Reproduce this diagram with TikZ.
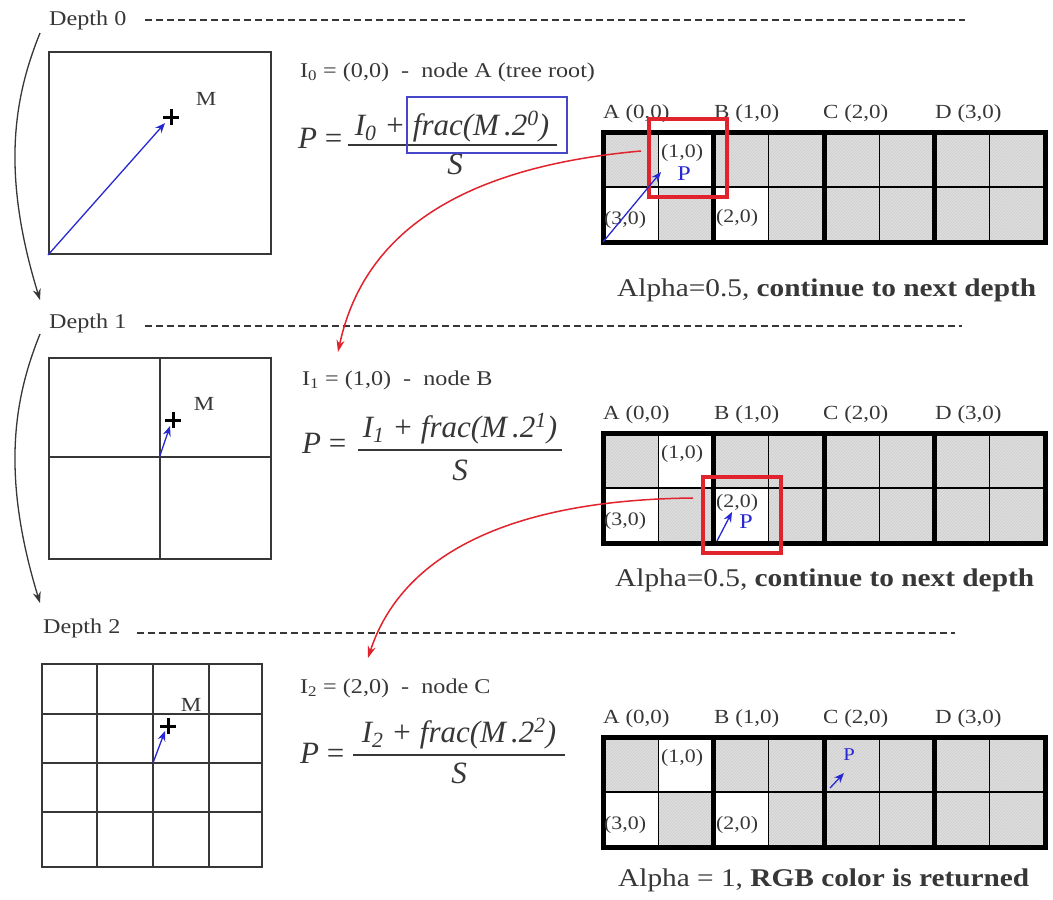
\documentclass[tikz,border=0pt]{standalone}
\usepackage{fontspec}
\setmainfont{Liberation Serif}
\newfontfamily\gara[FakeStretch=1.15]{Liberation Serif}
\usetikzlibrary{arrows.meta,patterns}
\definecolor{txt}{RGB}{55,55,55}
\definecolor{bl}{RGB}{40,40,210}
\definecolor{bxb}{RGB}{70,70,200}
\definecolor{rd}{RGB}{225,35,45}
\definecolor{cellg}{RGB}{222,222,222}
\newcommand{\fs}[1]{\fontsize{#1}{#1}\selectfont}
% #1 top y, #2 prefix, #3 y offset of (2,0)
\newcommand{\quadgrid}[3]{%
  \fill[cellg] (603,#1) rectangle (1045,#1+110);
  \fill[pattern=north east lines, pattern color=gray!40] (603,#1) rectangle (1045,#1+110);
  \fill[white] (658.25,#1) rectangle (713.5,#1+55);
  \fill[white] (603,#1+55) rectangle (658.25,#1+110);
  \fill[white] (713.5,#1+55) rectangle (768.75,#1+110);
  \foreach \xx in {658.25,768.75,879.25,989.75} \draw[thinl] (\xx,#1) -- (\xx,#1+110);
  \draw[thinl] (603,#1+55) -- (1045,#1+55);
  \foreach \xx in {713.5,824,934.5} \draw[thickl] (\xx,#1) -- (\xx,#1+110);
  \draw[thickl] (603,#1) rectangle (1045,#1+110);
  \node[glbl] (#2A) at (603,#1-14) {A (0,0)};
  \node[glbl] (#2B) at (714,#1-14) {B (1,0)};
  \node[glbl] (#2C) at (823,#1-14) {C (2,0)};
  \node[glbl] (#2D) at (935,#1-14) {D (3,0)};
  \node[clbl] (#2c1) at (661,#1+21) {(1,0)};
  \node[clbl] (#2c3) at (604,#1+88) {(3,0)};
  \node[clbl] (#2c2) at (716,#1+#3) {(2,0)};
}
% cross mark: #1 x, #2 y
\newcommand{\crossmark}[2]{\draw[crossl] (#1-8,#2) -- (#1+8,#2) (#1,#2-8) -- (#1,#2+8);}
\begin{document}
\begin{tikzpicture}[x=1pt,y=-1pt,
  deplbl/.style={font=\gara\fs{21}, text=txt, inner sep=0pt, anchor=west},
  ilbl/.style={font=\gara\fs{21}, text=txt, inner sep=0pt, anchor=west},
  glbl/.style={font=\gara\fs{20}, text=txt, inner sep=0pt, anchor=base west},
  clbl/.style={font=\gara\fs{19}, text=txt, inner sep=0pt, anchor=west},
  mlbl/.style={font=\gara\fs{20}, text=txt, inner sep=0pt},
  alph/.style={font=\gara\fs{25.5}, text=txt, inner sep=0pt, anchor=west},
  frm/.style={font=\fs{31}, text=txt, inner sep=0pt},
  fracl/.style={draw=txt, line width=1.8pt},
  dashln/.style={line width=1.8pt, dash pattern=on 7pt off 4pt, draw=txt},
  sq/.style={draw=txt, line width=2pt, inner sep=0pt},
  sqline/.style={draw=txt, line width=2pt},
  thinl/.style={draw=black, line width=1.4pt},
  thickl/.style={draw=black, line width=5pt},
  crossl/.style={draw=black, line width=3pt},
  barrow/.style={draw=bl, line width=1.3pt, -{Stealth[length=10pt,width=8pt]}},
  plbl/.style={font=\gara\fs{21}, text=bl, inner sep=0pt},
  redbox/.style={draw=rd, line width=4pt},
  rarrow/.style={draw=rd, line width=1.5pt, -{Stealth[length=12pt,width=8pt]}},
  darrow/.style={draw=txt, line width=1.3pt, -{Stealth[length=11pt,width=8pt]}}
]
\useasboundingbox (0,0) rectangle (1053,900);
\fill[white] (0,0) rectangle (1053,900);

% depth headings
\node[deplbl] (d0) at (49,20) {Depth 0};
\node[deplbl] (d1) at (49,323) {Depth 1};
\node[deplbl] (d2) at (43,628) {Depth 2};
\draw[dashln] (145,20) -- (965,20);
\draw[dashln] (145,326) -- (962,326);
\draw[dashln] (137,633) -- (955,633);

% left curved arrows
\coordinate (a0s) at (40,33);
\coordinate (a0e) at (40,300);
\coordinate (a1s) at (40,334);
\coordinate (a1e) at (40,603);
\draw[darrow] (a0s) .. controls (15,95) and (0,170) .. (a0e);
\draw[darrow] (a1s) .. controls (15,396) and (0,472) .. (a1e);

% depth 0 square
\node[sq, minimum width=222pt, minimum height=202pt] (sq0) at (160,153) {};
\coordinate (x0) at (171,117);
\crossmark{171}{117}
\node[mlbl] (m0) at (206,99) {M};
\draw[barrow] (sq0.south west) -- (165,123);

% depth 1 square
\node[sq, minimum width=222pt, minimum height=201pt] (sq1) at (160,458.5) {};
\draw[sqline] (159.5,358) -- (159.5,559);
\draw[sqline] (49,457) -- (271,457);
\coordinate (x1) at (173,420);
\crossmark{173}{420}
\node[mlbl] (m1) at (204,404) {M};
\coordinate (b1s) at (159.5,457);
\draw[barrow] (b1s) -- (170,426);

% depth 2 square
\node[sq, minimum width=220pt, minimum height=203pt] (sq2) at (152,765.5) {};
\foreach \xx in {97,153,209} \draw[sqline] (\xx,664) -- (\xx,867);
\foreach \yy in {714,763,812} \draw[sqline] (42,\yy) -- (262,\yy);
\coordinate (x2) at (168,726);
\crossmark{168}{726}
\node[mlbl] (m2) at (191,705) {M};
\coordinate (b2s) at (153,763);
\draw[barrow] (b2s) -- (165,731);

% formulas
\node[ilbl] (i0) at (300,72) {I\textsubscript{0} = (0,0) \ - \ node A (tree root)};
\node[frm, anchor=base west] (p0) at (298,148) {\textit{P} =};
\node[frm, anchor=base] (n0) at (452,135) {\itshape I\textsubscript{0} + frac(M\,.2\textsuperscript{0})};
\node[frm, anchor=base] (s0) at (455,174) {\itshape S};
\draw[fracl] (348,145) -- (557,145);
\node[draw=bxb, line width=2pt, minimum width=160pt, minimum height=56pt, inner sep=0pt] (bx0) at (487,125) {};

\node[ilbl] (i1) at (302,380) {I\textsubscript{1} = (1,0) \ - \ node B};
\node[frm, anchor=base west] (p1) at (302,453) {\textit{P} =};
\node[frm, anchor=base] (n1) at (460,437) {\itshape I\textsubscript{1} + frac(M\,.2\textsuperscript{1})};
\node[frm, anchor=base] (s1) at (460,480) {\itshape S};
\draw[fracl] (358,450) -- (562,450);

\node[ilbl] (i2) at (300,688) {I\textsubscript{2} = (2,0) \ - \ node C};
\node[frm, anchor=base west] (p2) at (300,763) {\textit{P} =};
\node[frm, anchor=base] (n2) at (459,742) {\itshape I\textsubscript{2} + frac(M\,.2\textsuperscript{2})};
\node[frm, anchor=base] (s2) at (459,783) {\itshape S};
\draw[fracl] (353,755) -- (565,755);

% grids
\quadgrid{132}{g0}{86}
\quadgrid{433}{g1}{70}
\quadgrid{737}{g2}{88}

\node[alph] (t0) at (617,290) {Alpha=0.5, \textbf{continue to next depth}};
\node[alph] (t1) at (615,580) {Alpha=0.5, \textbf{continue to next depth}};
\node[alph] (t2) at (618,880) {Alpha = 1, \textbf{RGB color is returned}};

% red boxes
\draw[redbox] (649,119) rectangle (727,197);
\draw[redbox] (703,477) rectangle (781,553);

% P markers in grids
\coordinate (gp0s) at (603,242);
\draw[barrow] (gp0s) -- (661,172);
\node[plbl] (P0) at (684,174) {P};
\coordinate (gp1s) at (717,541);
\draw[barrow] (gp1s) -- (732,512);
\node[plbl] (P1) at (746,522) {P};
\coordinate (gp2s) at (830,788);
\draw[barrow] (gp2s) -- (844,773);
\node[plbl, font=\gara\fs{18}] (P2) at (849,755) {P};

% red curved arrows
\coordinate (r0s) at (641,151);
\coordinate (r0e) at (338,352);
\draw[rarrow] (r0s) .. controls (450,168) and (362,240) .. (r0e);
\coordinate (r1s) at (693,498);
\coordinate (r1e) at (368,658);
\draw[rarrow] (r1s) .. controls (500,500) and (400,560) .. (r1e);
\end{tikzpicture}
\end{document}
